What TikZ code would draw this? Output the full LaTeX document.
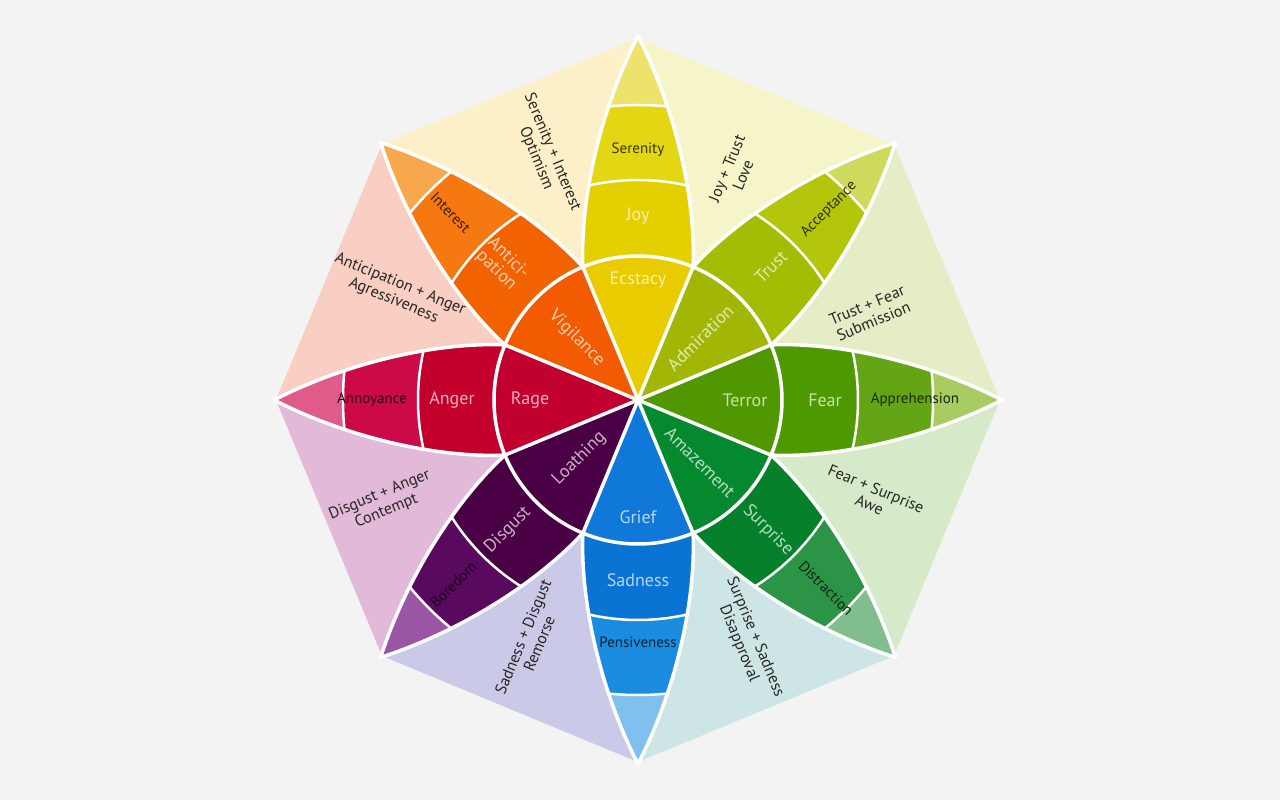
\documentclass[tikz,border=0pt]{standalone}
\usepackage{fontspec}
\setmainfont{PT Sans}
\usetikzlibrary{positioning}
% petal colours: T tip, O outer band, M middle band, I inner wedge
\definecolor{JoyT}{HTML}{EDE26C}\definecolor{JoyO}{HTML}{E3D612}\definecolor{JoyM}{HTML}{E4CF00}\definecolor{JoyI}{HTML}{E8CC00}
\definecolor{TruT}{HTML}{CDDA5C}\definecolor{TruO}{HTML}{B4C60C}\definecolor{TruM}{HTML}{A3BC04}\definecolor{TruI}{HTML}{A2B705}
\definecolor{FeaT}{HTML}{A8CB62}\definecolor{FeaO}{HTML}{64A515}\definecolor{FeaM}{HTML}{4F9900}\definecolor{FeaI}{HTML}{519800}
\definecolor{SurT}{HTML}{80BF8D}\definecolor{SurO}{HTML}{2B9447}\definecolor{SurM}{HTML}{06802A}\definecolor{SurI}{HTML}{05892F}
\definecolor{SadT}{HTML}{80C0EE}\definecolor{SadO}{HTML}{1A8CE0}\definecolor{SadM}{HTML}{0A74D4}\definecolor{SadI}{HTML}{0F78D8}
\definecolor{DisT}{HTML}{9A55A5}\definecolor{DisO}{HTML}{5A0A5E}\definecolor{DisM}{HTML}{4A0045}\definecolor{DisI}{HTML}{4A0044}
\definecolor{AngT}{HTML}{DE5B8A}\definecolor{AngO}{HTML}{CC0A48}\definecolor{AngM}{HTML}{C2002B}\definecolor{AngI}{HTML}{C20030}
\definecolor{AntT}{HTML}{F8A84C}\definecolor{AntO}{HTML}{F67810}\definecolor{AntM}{HTML}{F26300}\definecolor{AntI}{HTML}{F25B00}
% blends between petals
\definecolor{Opt}{HTML}{FDEFC8}\definecolor{Lov}{HTML}{F5F5C9}\definecolor{Sub}{HTML}{E4EDC6}\definecolor{Awe}{HTML}{D6E9C8}
\definecolor{Dap}{HTML}{CDE6E5}\definecolor{Rem}{HTML}{CACAE8}\definecolor{Con}{HTML}{E2B9D8}\definecolor{Agr}{HTML}{F8CFC2}
\definecolor{bg}{HTML}{F3F3F3}
\tikzset{
  every picture/.style={line join=round, line cap=round},
  gap/.style={draw=white, line width=3.5pt},
  thin gap/.style={draw=white, line width=2.5pt},
  light label/.style={font=\fontsize{18}{17}\selectfont, inner sep=0pt, align=center},
  dark label/.style={font=\fontsize{15}{15}\selectfont, inner sep=0pt},
  blend label/.style={font=\fontsize{16}{17.5}\selectfont, inner sep=0pt, align=center, text=black!85},
}

\begin{document}
\begin{tikzpicture}[x=1pt, y=1pt]
\fill[bg] (-638,-400) rectangle (642,400);
\useasboundingbox (-638,-400) rectangle (642,400);
% octagon sides
\foreach \b/\col in {112.5/Opt, 67.5/Lov, 22.5/Sub, -22.5/Awe, -67.5/Dap, -112.5/Rem, -157.5/Con, 157.5/Agr}{
  \fill[\col] (0,0) -- (\b+22.5:362) -- (\b-22.5:362) -- cycle;
}
% petals
\foreach \a/\col in {90/Joy, 45/Tru, 0/Fea, -45/Sur, -90/Sad, -135/Dis, 180/Ang, 135/Ant}{
  \begin{scope}[rotate=\a]
    \begin{scope}
      \clip (0,0) -- (22.5:144) .. controls (200,58) and (290,38) .. (364,0)
        .. controls (290,-38) and (200,-58) .. (-22.5:144) -- cycle;
      \fill[\col T] (0,0) circle (370);
      \fill[\col O] (0,0) circle (295);
      \fill[\col M] (0,0) circle (220);
      \fill[\col I] (0,0) circle (144);
      \draw[thin gap] (0,0) circle (220) (0,0) circle (295);
    \end{scope}
    \draw[gap] (22.5:144) .. controls (200,58) and (290,38) .. (364,0)
      .. controls (290,-38) and (200,-58) .. (-22.5:144);
  \end{scope}
}
\draw[gap] (0,0) circle (144);
\foreach \b in {22.5,67.5,...,337.5}{\draw[gap] (0,0) -- (\b:144);}
% petal labels
\foreach \a/\r/\rot/\col/\n/\t in {90/120/0/Joy/ecstacy/Ecstacy, 90/184/0/Joy/joy/Joy,
    45/88/45/Tru/admiration/Admiration, 45/188/45/Tru/trust/Trust,
    0/107/0/Fea/terror/Terror, 0/187/0/Fea/fear/Fear,
    -45/88/-45/Sur/amazement/Amazement, -45/184/-45/Sur/surprise/Surprise,
    -90/117/0/Sad/grief/Grief, -90/180/0/Sad/sadness/Sadness,
    -135/83/45/Dis/loathing/Loathing, -135/184/45/Dis/disgust/Disgust,
    180/108/0/Ang/rage/Rage, 180/186/0/Ang/anger/Anger,
    135/87/-45/Ant/vigilance/Vigilance, 135/192/-45/Ant/anticipation/{Antici-\\pation}}{
  \node[light label, rotate=\rot, text=\col I!30!white] (\n) at (\a:\r) {\t};
}
\foreach \a/\r/\rot/\col/\n/\t in {90/250/0/Joy/serenity/Serenity, 45/270/45/Tru/acceptance/Acceptance,
    0/277/0/Fea/apprehension/Apprehension, -45/266/-45/Sur/distraction/Distraction,
    -90/242/0/Sad/pensiveness/Pensiveness, -135/261/45/Dis/boredom/Boredom,
    180/266/0/Ang/annoyance/Annoyance, 135/265/-45/Ant/interest/Interest}{
  \node[dark label, rotate=\rot, text=\col O!25!black] (\n) at (\a:\r) {\t};
}
% blends
\node[blend label, rotate=-67.5] (optimism) at (111:262) {Serenity + Interest\\Optimism};
\node[blend label, rotate=67.5] (love) at (67:248) {Joy + Trust\\Love};
\node[blend label, rotate=22.5] (submission) at (20.5:248) {Trust + Fear\\Submission};
\node[blend label, rotate=-22.5] (awe) at (-22.4:254) {Fear + Surprise\\Awe};
\node[blend label, rotate=-67.5] (disapproval) at (-65.6:264) {Surprise + Sadness\\Disapproval};
\node[blend label, rotate=67.5] (remorse) at (-114:263) {Sadness + Disgust\\Remorse};
\node[blend label, rotate=22.5] (contempt) at (-158:275) {Disgust + Anger\\Contempt};
\node[blend label, rotate=-22.5] (aggressiveness) at (156:264) {Anticipation + Anger\\Agressiveness};
\end{tikzpicture}
\end{document}
